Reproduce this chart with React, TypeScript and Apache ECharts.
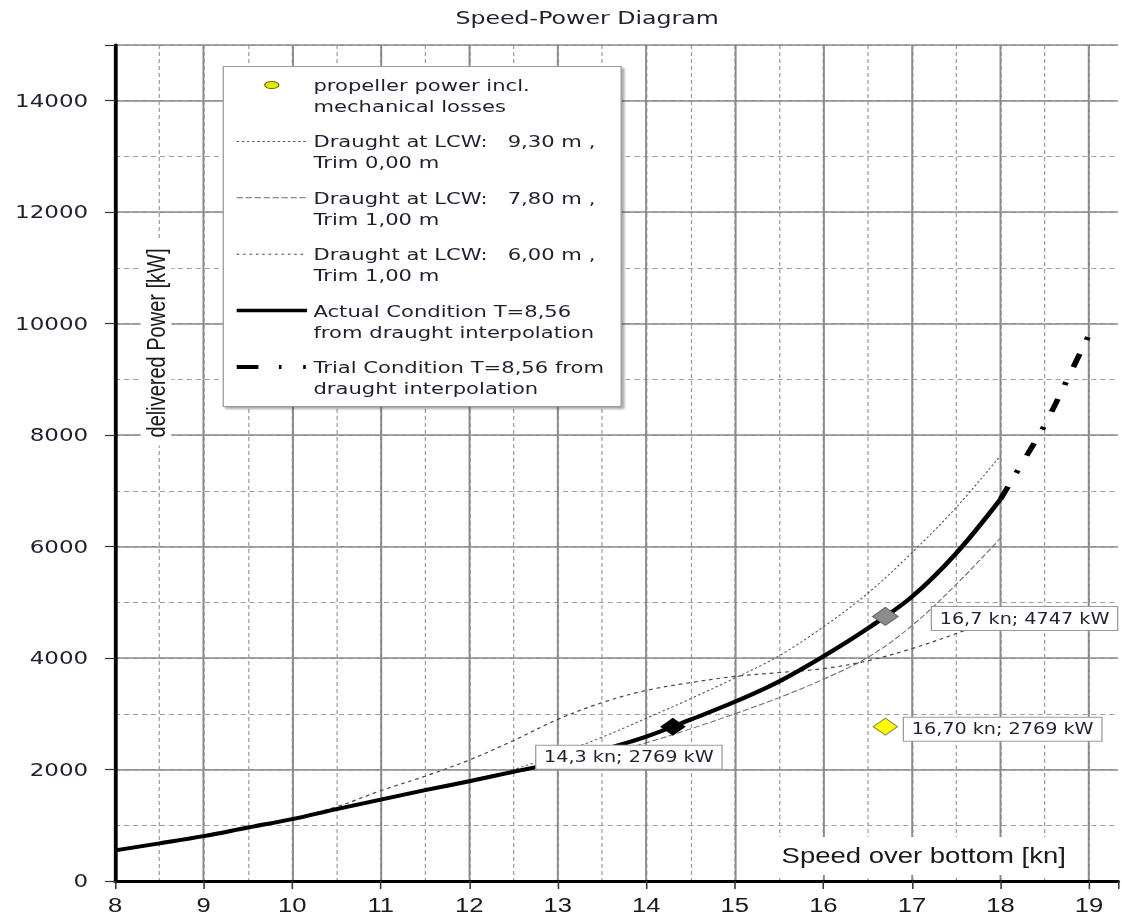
import React, { useEffect, useRef } from "react";
import * as echarts from "echarts";

// ---- data -----------------------------------------------------------------

const speeds = [8, 8.5, 9, 9.5, 10, 10.5, 11, 11.5, 12, 12.5, 13, 13.5, 14, 14.5, 15, 15.5, 16, 16.5, 17, 17.5, 18];

const draught930 = [560, 685, 815, 970, 1120, 1300, 1470, 1640, 1810, 2000, 2280, 2580, 2920, 3270, 3640, 4040, 4560, 5160, 5890, 6700, 7630];
const draught780 = [545, 670, 800, 955, 1105, 1280, 1450, 1620, 1780, 1940, 2090, 2270, 2480, 2730, 3000, 3290, 3620, 4010, 4580, 5320, 6150];
const draught600 = [550, 676, 807, 963, 1120, 1330, 1620, 1880, 2170, 2520, 2900, 3200, 3420, 3560, 3670, 3740, 3810, 3950, 4170, 4440, 4750];
const actualCondition = [550, 675, 805, 960, 1110, 1290, 1460, 1630, 1790, 1960, 2130, 2350, 2590, 2895, 3215, 3580, 4030, 4530, 5100, 5880, 6850];

const trialSpeeds = [18, 18.25, 18.5, 18.75, 19];
const trialCondition = [6850, 7510, 8180, 8980, 9800];

const propellerPoint = [16.7, 2769];
const actualPoint = [14.3, 2769];
const trialPoint = [16.7, 4747];

const legendLabels = [
  "propeller power incl.\nmechanical losses",
  "Draught at LCW:   9,30 m ,\nTrim 0,00 m",
  "Draught at LCW:   7,80 m ,\nTrim 1,00 m",
  "Draught at LCW:   6,00 m ,\nTrim 1,00 m",
  "Actual Condition T=8,56\nfrom draught interpolation",
  "Trial Condition T=8,56 from\ndraught interpolation",
];

const titleText = "Speed-Power Diagram";
const xAxisTitle = "Speed over bottom [kn]";
const yAxisTitle = "delivered Power [kW]";

const X_MIN = 8;
const X_MAX = 19.33;
const Y_MIN = 0;
const Y_MAX = 15000;

// ---- layout ---------------------------------------------------------------

const PAGE_W = 1122;
const PAGE_H = 917;
const CHART_W = 877;
const STRETCH = PAGE_W / CHART_W;

const GRID = { left: 90, right: 0, top: 45, bottom: 36 };

const LEGEND_BOX = { x: 174.5, y: 66.5, w: 311, h: 340 };
const LEGEND_ROW0 = 85;
const LEGEND_STEP = 56.4;
const LEGEND_LINE_X1 = 185;
const LEGEND_LINE_X2 = 240;
const LEGEND_TEXT_X = 245;
const LEGEND_LINE_H = 21;

const VALUE_FONT = "DejaVu Sans";
const NAME_FONT = "Liberation Sans";
const TEXT_COLOR = "#1f1f30";

const MAJOR_GRID = "#8a8a8a";
const MINOR_GRID = "#a0a0a0";

// ---- helpers --------------------------------------------------------------

const pairs = (xs: number[], ys: number[]) => xs.map((x, i) => [x, ys[i]]);
const decimal = (v: number, digits: number) => v.toFixed(digits).replace(".", ",");

const valueLabel = (offset: number[], digits: number) => ({
  show: true,
  position: "inside",
  offset,
  formatter: (p: any) => `${decimal(p.value[0], digits)} kn; ${p.value[1]} kW`,
  backgroundColor: "#ffffff",
  borderColor: "#9a9a9a",
  borderWidth: 1,
  padding: [3, 6, 3, 6],
  fontFamily: VALUE_FONT,
  fontSize: 15,
  lineHeight: 17,
  color: TEXT_COLOR,
});

const curveStyles = [
  { color: "#5a5a5a", width: 1, type: [2, 2] },
  { color: "#6e6e6e", width: 1, type: [5, 2] },
  { color: "#4a4a4a", width: 1.2, type: [3, 3] },
  { color: "#000000", width: 4, type: "solid" },
  { color: "#000000", width: 4.5, type: [14, 15, 3, 16] },
];

const legendLineDash: any[] = [
  [2, 2],
  [5, 2],
  [2, 3],
  null,
  [17, 16, 2, 17, 2, 10],
];

function buildLegend() {
  const els: any[] = [];
  els.push({
    type: "rect",
    z: 50,
    shape: { x: LEGEND_BOX.x, y: LEGEND_BOX.y, width: LEGEND_BOX.w, height: LEGEND_BOX.h },
    style: {
      fill: "#ffffff",
      stroke: "#9a9a9a",
      lineWidth: 1,
      shadowColor: "rgba(0,0,0,0.35)",
      shadowOffsetX: 2,
      shadowOffsetY: 2,
      shadowBlur: 2,
    },
  });
  legendLabels.forEach((label, i) => {
    const cy = LEGEND_ROW0 + i * LEGEND_STEP;
    if (i === 0) {
      els.push({
        type: "ellipse",
        z: 51,
        shape: { cx: 212.4, cy, rx: 5.5, ry: 3.6 },
        style: { fill: "#e6e600", stroke: "#6b6b00", lineWidth: 1 },
      });
    } else {
      const s = curveStyles[i - 1];
      els.push({
        type: "line",
        z: 51,
        shape: { x1: LEGEND_LINE_X1, y1: cy, x2: LEGEND_LINE_X2, y2: cy },
        style: {
          stroke: s.color,
          lineWidth: i === 4 ? 3.5 : i === 5 ? 4 : 1,
          lineDash: legendLineDash[i - 1] || undefined,
        },
      });
    }
    els.push({
      type: "text",
      z: 51,
      x: LEGEND_TEXT_X,
      y: cy - LEGEND_LINE_H / 2,
      style: {
        text: label,
        fontFamily: VALUE_FONT,
        fontSize: 16.5,
        lineHeight: LEGEND_LINE_H,
        fill: TEXT_COLOR,
        align: "left",
        verticalAlign: "top",
      },
    });
  });
  return els;
}

function buildOption(): any {
  const curveNames = legendLabels.slice(1).map((l) => l.replace("\n", " "));
  const curveData = [draught930, draught780, draught600, actualCondition];

  const lineSeries = curveData.map((ys, i) => ({
    name: curveNames[i],
    type: "line",
    data: pairs(speeds, ys),
    smooth: 0.35,
    symbol: "none",
    z: i === 3 ? 4 : 3,
    lineStyle: { color: curveStyles[i].color, width: curveStyles[i].width, type: curveStyles[i].type, cap: "butt" },
  }));

  return {
    animation: false,
    backgroundColor: "#ffffff",
    title: {
      text: titleText,
      left: 356,
      top: 8,
      padding: 0,
      textStyle: { fontFamily: VALUE_FONT, fontSize: 18.5, fontWeight: "normal", color: TEXT_COLOR },
    },
    grid: { ...GRID, containLabel: false, show: false },
    xAxis: [
      {
        type: "value",
        min: X_MIN,
        max: X_MAX,
        interval: 1,
        z: 1,
        axisLine: { show: true, onZero: false, lineStyle: { color: "#000", width: 3 } },
        axisTick: { show: true, length: 8, lineStyle: { color: "#333", width: 1.2 } },
        axisLabel: {
          margin: 14,
          fontFamily: NAME_FONT,
          fontSize: 20,
          color: "#1a1a1a",
          formatter: (v: number) => (Number.isInteger(v) ? String(v) : ""),
        },
        splitLine: { show: true, showMaxLine: false, lineStyle: { color: MAJOR_GRID, width: 1.5 } },
      },
      {
        type: "value",
        min: X_MIN,
        max: X_MAX,
        interval: 0.5,
        position: "bottom",
        z: 0,
        axisLine: { show: false },
        axisTick: { show: false },
        axisLabel: { show: false },
        splitLine: { show: true, showMaxLine: false, lineStyle: { color: MINOR_GRID, width: 1, type: [4, 3] } },
      },
    ],
    yAxis: [
      {
        type: "value",
        min: Y_MIN,
        max: Y_MAX,
        interval: 2000,
        z: 1,
        axisLine: { show: true, onZero: false, lineStyle: { color: "#000", width: 3 } },
        axisTick: { show: true, length: 8, lineStyle: { color: "#333", width: 1.2 } },
        axisLabel: {
          margin: 21,
          fontFamily: VALUE_FONT,
          fontSize: 18,
          color: TEXT_COLOR,
          formatter: (v: number) => (v % 2000 === 0 ? String(v) : ""),
        },
        splitLine: { show: true, lineStyle: { color: MAJOR_GRID, width: 1.5 } },
      },
      {
        type: "value",
        min: Y_MIN,
        max: Y_MAX,
        interval: 1000,
        position: "left",
        z: 0,
        axisLine: { show: false },
        axisTick: { show: false },
        axisLabel: { show: false },
        splitLine: { show: true, lineStyle: { color: MINOR_GRID, width: 1, type: [4, 3] } },
      },
    ],
    series: [
      ...lineSeries,
      {
        name: legendLabels[5].replace("\n", " "),
        type: "line",
        data: pairs(trialSpeeds, trialCondition),
        smooth: 0.35,
        symbol: "none",
        z: 4,
        lineStyle: { color: curveStyles[4].color, width: curveStyles[4].width, type: curveStyles[4].type, cap: "butt" },
      },
      {
        name: legendLabels[0].replace("\n", " "),
        type: "scatter",
        data: [propellerPoint],
        symbol: "diamond",
        symbolSize: [19, 17],
        z: 6,
        itemStyle: { color: "#ffff00", borderColor: "#8f8f50", borderWidth: 1, opacity: 1 },
        label: valueLabel([91.7, 2.5], 2),
      },
      {
        name: "actual point",
        type: "scatter",
        data: [actualPoint],
        symbol: "diamond",
        symbolSize: [20, 18],
        z: 6,
        itemStyle: { color: "#000000", opacity: 1 },
        label: valueLabel([-34.4, 30.5], 1),
      },
      {
        name: "trial point",
        type: "scatter",
        data: [trialPoint],
        symbol: "diamond",
        symbolSize: [20, 18],
        z: 6,
        itemStyle: { color: "#8c8c8c", borderColor: "#6a6a6a", borderWidth: 1, opacity: 1 },
        label: valueLabel([108.8, 2], 1),
      },
    ],
    graphic: {
      elements: [
        // the plot is open on the right: mask the closing grid line at the canvas edge
        {
          type: "rect",
          z: 5,
          shape: { x: CHART_W - 3, y: GRID.top + 1.5, width: 4, height: PAGE_H - GRID.top - GRID.bottom - 3 },
          style: { fill: "#ffffff" },
        },
        {
          type: "text",
          z: 20,
          x: 122,
          y: 343,
          rotation: Math.PI / 2,
          style: {
            text: yAxisTitle,
            fontFamily: NAME_FONT,
            fontSize: 20,
            fill: "#1a1a1a",
            align: "center",
            verticalAlign: "middle",
            backgroundColor: "#ffffff",
            padding: [2, 8],
          },
        },
        {
          type: "text",
          z: 20,
          x: 722,
          y: 856,
          style: {
            text: xAxisTitle,
            fontFamily: NAME_FONT,
            fontSize: 21.5,
            fill: "#1a1a1a",
            align: "center",
            verticalAlign: "middle",
            backgroundColor: "#ffffff",
            padding: [8, 6],
          },
        },
        ...buildLegend(),
      ],
    },
  };
}

export default function App() {
  const ref = useRef<HTMLDivElement>(null);

  useEffect(() => {
    if (!ref.current) return;
    const chart = echarts.init(ref.current, undefined, { renderer: "svg" });
    chart.setOption(buildOption());
    return () => chart.dispose();
  }, []);

  return (
    <div
      ref={ref}
      style={{
        position: "absolute",
        left: 0,
        top: 0,
        width: CHART_W,
        height: PAGE_H,
        transform: `scaleX(${STRETCH})`,
        transformOrigin: "0 0",
        background: "#ffffff",
      }}
    />
  );
}
